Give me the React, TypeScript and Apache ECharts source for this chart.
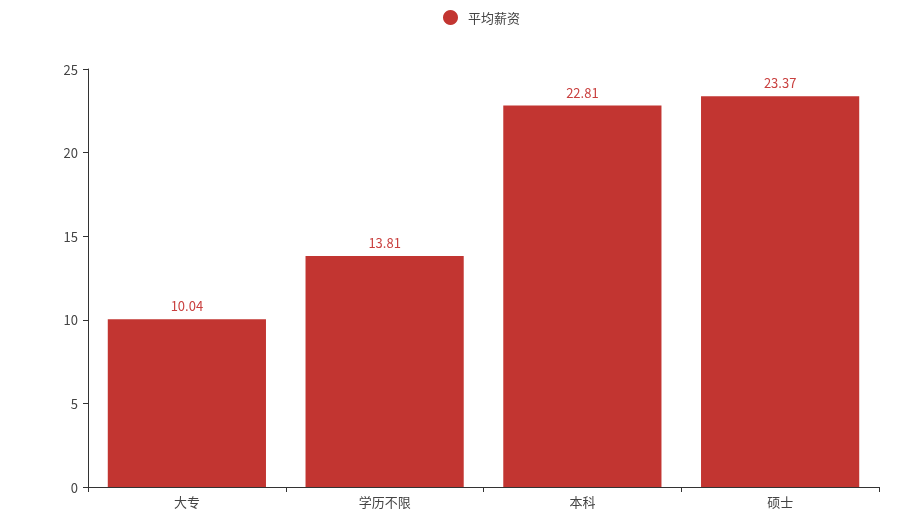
import React, { useEffect, useRef } from "react";
import * as echarts from "echarts";

const categories = ["大专", "学历不限", "本科", "硕士"];
const salaries = [10.04, 13.81, 22.81, 23.37];
const seriesName = "平均薪资";

export default function App() {
  const ref = useRef<HTMLDivElement>(null);
  useEffect(() => {
    const chart = echarts.init(ref.current!, undefined, { renderer: "svg" });
    const font = "'Microsoft YaHei', 'Noto Sans CJK SC', sans-serif";
    chart.setOption({
      animation: false,
      textStyle: { fontFamily: font },
      legend: {
        top: 5,
        left: 438,
        icon: "circle",
        itemWidth: 25,
        itemHeight: 15,
        textStyle: { color: "#444", fontSize: 13, fontFamily: font },
        data: [seriesName],
      },
      grid: { left: 88, right: 30, top: 69, bottom: 37, containLabel: false },
      xAxis: {
        type: "category",
        data: categories,
        axisLine: { lineStyle: { color: "#333" } },
        axisTick: { show: true, alignWithLabel: false },
        axisLabel: { color: "#444", fontSize: 13, fontFamily: font },
      },
      yAxis: {
        type: "value",
        min: 0,
        max: 25,
        interval: 5,
        axisLine: { show: true, lineStyle: { color: "#333" } },
        axisTick: { show: true },
        splitLine: { show: false },
        axisLabel: { color: "#444", fontSize: 13, fontFamily: font, margin: 10 },
      },
      series: [
        {
          name: seriesName,
          type: "bar",
          data: salaries,
          barCategoryGap: "20%",
          itemStyle: { color: "#c23531" },
          label: {
            show: true,
            position: "top",
            distance: 7,
            color: "#c9403f",
            fontSize: 13,
            fontFamily: font,
          },
        },
      ],
    });
    return () => chart.dispose();
  }, []);
  return (
    <div
      ref={ref}
      style={{ position: "fixed", left: 0, top: 0, width: 909, height: 524 }}
    />
  );
}
